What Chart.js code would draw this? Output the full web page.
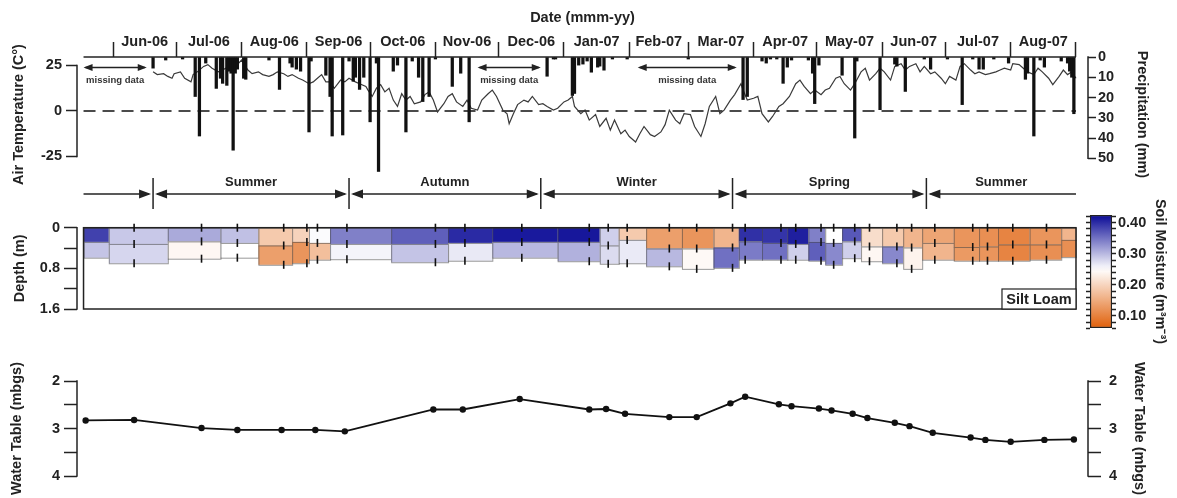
<!DOCTYPE html>
<html>
<head>
<meta charset="utf-8">
<title>Weather, soil moisture and water table</title>
<script src="https://cdn.jsdelivr.net/npm/chart.js@4.4.1/dist/chart.umd.min.js"></script>
<style>
  body { margin: 0; background: #fff; }
  #fig { position: relative; width: 1177px; height: 498px; overflow: hidden; }
  #fig canvas { position: absolute; }
</style>
</head>
<body>
<div id="fig">
  <canvas id="weather" width="1177" height="215" style="left:0;top:0"></canvas>
  <canvas id="soil" width="1177" height="120" style="left:0;top:215px"></canvas>
  <canvas id="water" width="1177" height="158" style="left:0;top:340px"></canvas>
  <canvas id="bar" width="137" height="165" style="left:1040px;top:195px"></canvas>
</div>
<script>
// time is counted in days after 1 Jun 2006
const D0 = Date.UTC(2006, 5, 1);
function day(s) {
    const p = s.split('-').map(Number);
    return (Date.UTC(p[0], p[1] - 1, p[2]) - D0) / 864e5;
}
const X_MIN = -17.1, X_MAX = 462.7; // axis brackets sit a bit outside the data frame
const FRAME_START = day('2006-05-18'), FRAME_END = day('2007-09-01');

const monthStarts = ['2006-06-01', '2006-07-01', '2006-08-01', '2006-09-01', '2006-10-01', '2006-11-01',
    '2006-12-01', '2007-01-01', '2007-02-01', '2007-03-01', '2007-04-01', '2007-05-01', '2007-06-01',
    '2007-07-01', '2007-08-01', '2007-09-01'];
const monthLabels = ['Jun-06', 'Jul-06', 'Aug-06', 'Sep-06', 'Oct-06', 'Nov-06', 'Dec-06', 'Jan-07',
    'Feb-07', 'Mar-07', 'Apr-07', 'May-07', 'Jun-07', 'Jul-07', 'Aug-07'];

// air temperature (days after 1 Jun 2006, deg C)
const tempDay = [19, 21, 24, 26, 28, 29, 32, 34, 37, 38, 40, 43, 45, 47, 50, 52, 55, 57, 59, 61,
    64, 66, 69, 71, 74, 76, 78, 81, 83, 85, 88, 90, 93, 95, 97, 99, 101, 103, 105, 108,
    110, 112, 115, 117, 120, 121, 123, 125, 127, 129, 131, 133, 135, 137, 139, 141, 143, 146, 148, 150,
    152, 154, 157, 159, 161, 163, 166, 168, 170, 173, 175, 178, 180, 182, 185, 187, 188, 190, 192, 195,
    197, 199, 202, 204, 206, 209, 211, 214, 216, 218, 219, 222, 224, 226, 229, 231, 234, 236, 238, 241,
    243, 245, 248, 250, 252, 255, 257, 260, 262, 264, 267, 269, 271, 274, 276, 279, 281, 283, 286, 288,
    290, 293, 295, 298, 299, 301, 304, 306, 308, 311, 313, 316, 318, 321, 324, 326, 328, 331, 333, 336,
    338, 340, 343, 345, 347, 350, 352, 355, 357, 359, 362, 364, 366, 369, 371, 374, 376, 378, 381, 383,
    385, 388, 390, 393, 395, 397, 400, 402, 404, 407, 409, 411, 414, 416, 419, 421, 423, 426, 427, 430,
    432, 434, 437, 439, 441, 444, 446, 449, 451, 453, 455, 457];
const tempC = [21.5, 20, 20.5, 19, 18, 20.5, 21.5, 18, 16, 20, 21.5, 24.5, 25.5, 23.5, 21.5, 22.5, 24.5, 23.5, 25.5, 28,
    22.5, 20.5, 21.5, 20, 19, 20, 21.5, 20.5, 19, 20, 18, 17, 15, 16, 18, 20, 16, 16, 12.5, 17,
    16, 18, 16, 15, 13.5, 11.5, 8, 12.5, 14.5, 10.5, 12.5, 6, 2.5, 9.5, 6, 8, 4, 5, 9, 10.5,
    6, -0.5, 4, 8, 9.5, 5, 2.5, 6, 1.5, 0.5, 6, 9.5, 11.5, 8, 0.5, -1.5, -7, -1.5, 3.5, 6,
    5, 8, 3.5, 4, 2.5, 0.5, 1.5, 5, 6, 8, 2.5, -1.5, 0.5, -5, -2, -8.5, -4, -10.5, -5, -12.5,
    -10.5, -14, -17, -12.5, -8.5, -13, -14, -11.5, -7.5, 0.5, -5, -7, -1.5, -2, -8.5, -14, -7, 2.5, 8, -1.5,
    0.5, 6, 9, 15, 11.5, 6, 7, 8, -1.5, -6, -3, 2.5, 4, 8, 15, 17, 13.5, 9.5, 11.5, 9,
    11.5, 12.5, 18, 19, 15, 11.5, 15, 21.5, 23.5, 17, 20.5, 23.5, 21.5, 17, 24.5, 26, 22.5, 24.5, 26, 21.5,
    24.5, 20.5, 21.5, 18, 15, 19, 17, 24.5, 26, 22.5, 20.5, 21.5, 20, 20.5, 21.5, 22.5, 23.5, 22.5, 26, 25.5,
    23.5, 21.5, 20, 23.5, 21.5, 18, 14.5, 19, 22.5, 20, 21.5, 18];

// daily precipitation (days after 1 Jun 2006, mm)
const rainDay = [19, 25, 33, 39, 41, 44, 49, 51, 52, 54, 55, 56, 57, 58, 59, 62, 63, 74, 79, 84,
    85, 87, 89, 93, 94, 101, 103, 104, 109, 112, 114, 115, 117, 119, 122, 125, 126, 133, 135, 139,
    142, 145, 147, 150, 153, 161, 165, 169, 206, 209, 210, 218, 219, 221, 223, 225, 227, 230, 231, 233,
    237, 244, 273, 299, 301, 308, 310, 312, 315, 318, 320, 322, 330, 332, 333, 335, 346, 352, 353, 364,
    371, 372, 376, 385, 388, 396, 403, 408, 411, 413, 418, 425, 433, 434, 437, 440, 442, 450, 453, 454,
    455, 456];
const rainMm = [5.5, 1.5, 1, 19.5, 39, 3, 15.5, 10.5, 13, 14, 7, 8, 46, 8, 6, 10.5, 11, 1.5, 16, 3,
    5, 6, 7, 37, 2, 9, 19.5, 39, 38.5, 2, 12, 10, 16, 10, 32, 3, 56.5, 7, 4, 37,
    2, 10, 22, 19.5, 1, 14.5, 8, 32, 9.5, 1, 1, 19, 18, 4, 3.5, 2, 7.5, 5, 4.5, 6.5,
    1, 1, 1, 21, 19.5, 2, 3, 1, 1, 13, 5, 1.5, 1.5, 8, 23, 4, 9, 40, 2, 26,
    3.5, 4.5, 17, 1, 6, 1, 23.5, 1, 6, 6, 1, 3, 11, 8, 39, 1.5, 5, 2, 3, 7,
    10, 28];

// periods without precipitation record
const gapStart = ['2006-05-18', '2006-11-21', '2007-02-05'];
const gapEnd = ['2006-06-17', '2006-12-21', '2007-03-24'];

const seasonStarts = ['2006-06-20', '2006-09-21', '2006-12-21', '2007-03-22', '2007-06-22'];
const seasonNames = ['Summer', 'Autumn', 'Winter', 'Spring', 'Summer'];

// soil moisture blocks: time edges, layer bases (m) and volumetric water content (m3/m3)
const soilEdges = ['2006-05-18', '2006-05-30', '2006-06-27', '2006-07-22', '2006-08-09', '2006-08-25',
    '2006-09-02', '2006-09-12', '2006-10-11', '2006-11-07', '2006-11-28', '2006-12-29', '2007-01-18',
    '2007-01-27', '2007-02-09', '2007-02-26', '2007-03-13', '2007-03-25', '2007-04-05', '2007-04-17',
    '2007-04-27', '2007-05-05', '2007-05-13', '2007-05-22', '2007-06-01', '2007-06-11', '2007-06-20',
    '2007-07-05', '2007-07-17', '2007-07-26', '2007-08-10', '2007-08-25', '2007-09-01'];
const upperBase = [0.28, 0.32, 0.27, 0.30, 0.35, 0.28, 0.30, 0.32, 0.32, 0.30, 0.28, 0.28, 0.35, 0.24, 0.41, 0.41,
    0.39, 0.27, 0.30, 0.32, 0.28, 0.30, 0.27, 0.37, 0.37, 0.39, 0.30, 0.38, 0.37, 0.33, 0.33, 0.24];
const lowerBase = [0.59, 0.70, 0.61, 0.59, 0.73, 0.70, 0.63, 0.62, 0.68, 0.65, 0.59, 0.66, 0.71, 0.70, 0.76, 0.81,
    0.79, 0.63, 0.63, 0.63, 0.65, 0.73, 0.60, 0.66, 0.70, 0.81, 0.63, 0.65, 0.65, 0.65, 0.63, 0.58];
const upperVWC = [0.386, 0.289, 0.311, 0.295, 0.187, 0.198, 0.253, 0.341, 0.364, 0.402, 0.414, 0.416, 0.284, 0.187, 0.136, 0.124,
    0.162, 0.398, 0.395, 0.41, 0.341, 0.25, 0.369, 0.21, 0.187, 0.162, 0.143, 0.124, 0.117, 0.104, 0.124, 0.162];
const lowerVWC = [0.292, 0.279, 0.241, 0.25, 0.136, 0.124, 0.174, 0.258, 0.292, 0.266, 0.301, 0.306, 0.276, 0.265, 0.301, 0.243,
    0.352, 0.344, 0.352, 0.284, 0.364, 0.334, 0.284, 0.241, 0.335, 0.236, 0.162, 0.13, 0.124, 0.104, 0.117, 0.117];
const probeDates = ['2006-06-11', '2006-07-13', '2006-07-30', '2006-08-21', '2006-09-01', '2006-09-06', '2006-09-20',
    '2006-11-01', '2006-11-15', '2006-12-12', '2007-01-13', '2007-01-22', '2007-01-31', '2007-02-20', '2007-03-05',
    '2007-03-22', '2007-03-28', '2007-04-14', '2007-04-21', '2007-05-03', '2007-05-09', '2007-05-19', '2007-05-26',
    '2007-06-08', '2007-06-15', '2007-06-26', '2007-07-14', '2007-07-21', '2007-08-02', '2007-08-18'];

// water table depth (m below ground surface)
const wtDates = ['2006-05-19', '2006-06-11', '2006-07-13', '2006-07-30', '2006-08-20', '2006-09-05', '2006-09-19',
    '2006-10-31', '2006-11-14', '2006-12-11', '2007-01-13', '2007-01-21', '2007-01-30', '2007-02-20', '2007-03-05',
    '2007-03-21', '2007-03-28', '2007-04-13', '2007-04-19', '2007-05-02', '2007-05-08', '2007-05-18', '2007-05-25',
    '2007-06-07', '2007-06-14', '2007-06-25', '2007-07-13', '2007-07-20', '2007-08-01', '2007-08-17', '2007-08-31'];
const wtDepth = [2.83, 2.82, 2.99, 3.03, 3.03, 3.03, 3.06, 2.60, 2.60, 2.38, 2.60, 2.59, 2.69, 2.76, 2.76,
    2.47, 2.33, 2.49, 2.53, 2.58, 2.62, 2.69, 2.78, 2.88, 2.95, 3.09, 3.19, 3.24, 3.28, 3.24, 3.23];

// colour bar
const CB_MIN = 0.061, CB_MAX = 0.425;
const cbTicks = [0.06, 0.08, 0.10, 0.12, 0.14, 0.16, 0.18, 0.20, 0.22, 0.24, 0.26, 0.28, 0.30, 0.32, 0.34,
    0.36, 0.38, 0.40, 0.42];
const cbLabels = [0.10, 0.20, 0.30, 0.40];

Chart.defaults.font.family = '"Liberation Sans", Arial, sans-serif';
Chart.defaults.font.size = 14.5;
Chart.defaults.font.weight = 'bold';
Chart.defaults.color = '#222';

// orange (dry) -> white -> blue (wet)
function cmap(v) {
    const mid = 0.25;
    let t, c;
    if (v >= mid) { t = Math.min(1, (v - mid) / (CB_MAX - mid)); c = [10, 10, 150]; }
    else { t = Math.min(1, (mid - v) / (mid - CB_MIN)); c = [224, 96, 10]; }
    const rgb = c.map(k => Math.round(255 + (k - 255) * t));
    return 'rgb(' + rgb.join(',') + ')';
}

function vAxis(position, o) {
    return {
        position: position,
        reverse: !!o.reverse,
        min: o.min,
        max: o.max,
        afterFit: s => { s.width = o.width; },
        afterBuildTicks: s => { s.ticks = o.ticks.map(v => ({ value: v })); },
        border: { display: false },
        grid: { drawOnChartArea: false, offset: false, tickLength: o.tick, tickWidth: 1.5, tickColor: '#222' },
        ticks: { padding: o.pad, autoSkip: false, callback: o.label || (v => String(v)) },
        title: { display: !!o.title, text: o.title || '', padding: { top: o.titlePad || 0, bottom: 0 } }
    };
}

// y axis line only between first and last tick
const brackets = {
    id: 'brackets',
    afterDraw(chart) {
        const ctx = chart.ctx;
        ctx.save();
        ctx.strokeStyle = '#222';
        ctx.lineWidth = 1.5;
        Object.values(chart.scales).forEach(s => {
            if (s.axis !== 'y' || !s.options.display || s.ticks.length < 2) return;
            const ys = s.ticks.map(t => s.getPixelForValue(t.value));
            const xx = s.position === 'left' ? s.right : s.left;
            ctx.beginPath();
            ctx.moveTo(xx, Math.min(...ys) - 0.75);
            ctx.lineTo(xx, Math.max(...ys) + 0.75);
            ctx.stroke();
        });
        ctx.restore();
    }
};

function head(ctx, tip, y, dir, len, half) {
    ctx.beginPath();
    ctx.moveTo(tip, y);
    ctx.lineTo(tip - dir * len, y - half);
    ctx.lineTo(tip - dir * len, y + half);
    ctx.closePath();
    ctx.fill();
}

function arrow(ctx, a, b, y, len, half, startHead, endHead) {
    ctx.beginPath();
    ctx.moveTo(a + (startHead ? 2 : 0), y);
    ctx.lineTo(b - (endHead ? 2 : 0), y);
    ctx.stroke();
    if (startHead) head(ctx, a, y, -1, len, half);
    if (endHead) head(ctx, b, y, 1, len, half);
}

const weatherMarks = {
    id: 'weatherMarks',
    afterDraw(chart) {
        const { ctx, chartArea: ca } = chart;
        const x = chart.scales.x;
        const px = s => x.getPixelForValue(typeof s === 'string' ? day(s) : s);
        ctx.save();
        ctx.strokeStyle = '#222';
        ctx.fillStyle = '#222';
        ctx.lineWidth = 1.5;
        // date axis line
        ctx.beginPath();
        ctx.moveTo(px(FRAME_START), ca.top);
        ctx.lineTo(px(FRAME_END), ca.top);
        ctx.stroke();

        // missing precipitation record
        ctx.font = 'bold 9.5px "Liberation Sans", Arial, sans-serif';
        ctx.textAlign = 'center';
        ctx.textBaseline = 'middle';
        ctx.lineWidth = 1.4;
        gapStart.forEach((s, i) => {
            const a = px(s), b = px(gapEnd[i]);
            ctx.fillStyle = '#222';
            arrow(ctx, a, b, ca.top + 10.5, 9, 3.5, true, true);
            ctx.fillStyle = '#333';
            ctx.fillText('missing data', (a + b) / 2, ca.top + 23);
        });

        // seasons row
        const edges = seasonStarts.map(px);
        const ends = [px(FRAME_START)].concat(edges, [px(FRAME_END)]);
        const yA = ca.bottom + 22;
        ctx.fillStyle = '#222';
        ctx.lineWidth = 1.5;
        edges.forEach(e => {
            ctx.beginPath();
            ctx.moveTo(e, ca.bottom + 6);
            ctx.lineTo(e, ca.bottom + 37);
            ctx.stroke();
        });
        for (let k = 0; k < ends.length - 1; k++) {
            const hasStart = k > 0, hasEnd = k < ends.length - 2;
            arrow(ctx, ends[k] + (hasStart ? 2 : 0), ends[k + 1] - (hasEnd ? 2 : 0), yA, 12, 4.5, hasStart, hasEnd);
        }
        ctx.font = 'bold 13px "Liberation Sans", Arial, sans-serif';
        seasonNames.forEach((n, i) => {
            ctx.fillText(n, (ends[i + 1] + ends[i + 2]) / 2, ca.bottom + 10);
        });
        ctx.restore();
    }
};

const monthEdges = monthStarts.map(day);
const monthMids = monthLabels.map((_, i) => (monthEdges[i] + monthEdges[i + 1]) / 2);
const monthTickValues = monthEdges.concat(monthMids).sort((a, b) => a - b);
const monthLabelAt = new Map(monthMids.map((m, i) => [m, monthLabels[i]]));
const edgeSet = new Set(monthEdges);

new Chart(document.getElementById('weather'), {
    type: 'bar',
    data: {
        datasets: [{
            type: 'bar',
            label: 'Precipitation',
            data: rainDay.map((d, i) => ({ x: d, y: rainMm[i] })),
            yAxisID: 'rain',
            backgroundColor: '#111',
            barThickness: 2.6,
            grouped: false,
            order: 0
        }, {
            type: 'line',
            label: 'Air temperature',
            data: tempDay.map((d, i) => ({ x: d, y: tempC[i] })),
            yAxisID: 'temp',
            borderColor: '#3a3a3a',
            borderWidth: 1.2,
            pointRadius: 0,
            order: 1
        }, {
            type: 'line',
            label: 'zero',
            data: [{ x: FRAME_START, y: 0 }, { x: FRAME_END, y: 0 }],
            yAxisID: 'temp',
            borderColor: '#111',
            borderWidth: 1.6,
            borderDash: [12, 7],
            pointRadius: 0,
            order: 2
        }]
    },
    options: {
        responsive: false,
        animation: false,
        layout: { padding: { left: 0, right: 0, top: 0, bottom: 43 } },
        plugins: { legend: { display: false }, tooltip: { enabled: false } },
        scales: {
            x: {
                type: 'linear',
                position: 'top',
                min: X_MIN,
                max: X_MAX,
                offset: false,
                afterFit: s => { s.height = 57; },
                afterBuildTicks: s => { s.ticks = monthTickValues.map(v => ({ value: v })); },
                border: { display: false },
                grid: {
                    drawOnChartArea: false,
                    offset: false,
                    tickLength: 15,
                    tickWidth: 1.5,
                    tickColor: c => (c.tick && edgeSet.has(c.tick.value)) ? '#222' : 'rgba(0,0,0,0)'
                },
                ticks: { autoSkip: false, maxRotation: 0, padding: -9, callback: v => monthLabelAt.get(v) || '' },
                title: { display: true, text: 'Date (mmm-yy)', padding: { top: 9, bottom: 0 } }
            },
            temp: vAxis('left', { min: -33.52, max: 29.67, width: 77, ticks: [-25, 0, 25], tick: 11, pad: 4,
                title: 'Air Temperature (C°)', titlePad: 10 }),
            rain: vAxis('right', { min: 0, max: 56.76, reverse: true, width: 89, ticks: [0, 10, 20, 30, 40, 50],
                tick: 8, pad: 2, title: 'Precipitation (mm)', titlePad: 26 })
        }
    },
    plugins: [brackets, weatherMarks]
});

// little vertical marks at every probe reading, on each layer boundary
const probeTicks = [];
probeDates.forEach(s => {
    const d = day(s);
    let i = 0;
    while (i < upperBase.length - 1 && day(soilEdges[i + 1]) <= d) i++;
    probeTicks.push({ x: d, y: 0 }, { x: d, y: upperBase[i] }, { x: d, y: lowerBase[i] });
});

const soilCells = {
    id: 'soilCells',
    beforeDatasetsDraw(chart) {
        const { ctx, chartArea: ca } = chart;
        const x = chart.scales.x, y = chart.scales.y;
        ctx.save();
        ctx.lineWidth = 1;
        ctx.strokeStyle = 'rgba(70,70,70,0.55)';
        for (let i = 0; i < upperVWC.length; i++) {
            const x0 = x.getPixelForValue(day(soilEdges[i]));
            const x1 = x.getPixelForValue(day(soilEdges[i + 1]));
            const layers = [[0, upperBase[i], upperVWC[i]], [upperBase[i], lowerBase[i], lowerVWC[i]]];
            layers.forEach(([d0, d1, v]) => {
                const y0 = y.getPixelForValue(d0), y1 = y.getPixelForValue(d1);
                ctx.fillStyle = cmap(v);
                ctx.fillRect(x0, y0, x1 - x0, y1 - y0);
                ctx.strokeRect(x0 + 0.5, y0 + 0.5, x1 - x0, y1 - y0);
            });
        }
        // frame
        const fx0 = x.getPixelForValue(FRAME_START), fx1 = x.getPixelForValue(FRAME_END);
        ctx.strokeStyle = '#222';
        ctx.lineWidth = 1.5;
        ctx.strokeRect(fx0, ca.top, fx1 - fx0, ca.bottom - ca.top);
        // soil type label
        ctx.fillStyle = '#fff';
        ctx.lineWidth = 1.2;
        ctx.fillRect(fx1 - 74, ca.bottom - 20, 74, 20);
        ctx.strokeRect(fx1 - 74, ca.bottom - 20, 74, 20);
        ctx.fillStyle = '#222';
        ctx.font = 'bold 14.5px "Liberation Sans", Arial, sans-serif';
        ctx.textAlign = 'center';
        ctx.textBaseline = 'middle';
        ctx.fillText('Silt Loam', fx1 - 37, ca.bottom - 9.5);
        ctx.restore();
    }
};

new Chart(document.getElementById('soil'), {
    type: 'scatter',
    data: {
        datasets: [{
            label: 'probe readings',
            data: probeTicks,
            pointStyle: 'line',
            pointRotation: 90,
            pointRadius: 4,
            pointBorderColor: '#111',
            pointBorderWidth: 1.6,
            clip: false
        }]
    },
    options: {
        responsive: false,
        animation: false,
        layout: { padding: { left: 0, right: 89, top: 10, bottom: 26 } },
        plugins: { legend: { display: false }, tooltip: { enabled: false } },
        scales: {
            x: { type: 'linear', display: false, min: X_MIN, max: X_MAX },
            y: vAxis('left', { min: 0, max: 1.6, reverse: true, width: 77, ticks: [0, 0.4, 0.8, 1.2, 1.6], tick: 13, pad: 4,
                label: v => (v === 0.4 || v === 1.2) ? '' : String(v), title: 'Depth (m)', titlePad: 11 })
        }
    },
    plugins: [brackets, soilCells]
});

new Chart(document.getElementById('water'), {
    type: 'line',
    data: {
        datasets: [{
            label: 'Water table',
            data: wtDates.map((s, i) => ({ x: day(s), y: wtDepth[i] })),
            yAxisID: 'y',
            borderColor: '#111',
            borderWidth: 1.8,
            pointRadius: 3.2,
            pointBackgroundColor: '#111',
            pointBorderColor: '#111',
            pointBorderWidth: 0,
            tension: 0,
            clip: false
        }]
    },
    options: {
        responsive: false,
        animation: false,
        layout: { padding: { left: 0, right: 0, top: 41, bottom: 22 } },
        plugins: { legend: { display: false }, tooltip: { enabled: false } },
        scales: {
            x: { type: 'linear', display: false, min: X_MIN, max: X_MAX },
            y: vAxis('left', { min: 2, max: 4, reverse: true, width: 77, ticks: [2, 2.5, 3, 3.5, 4], tick: 13, pad: 4,
                label: v => Number.isInteger(v) ? String(v) : '', title: 'Water Table (mbgs)', titlePad: 8 }),
            y2: vAxis('right', { min: 2, max: 4, reverse: true, width: 89, ticks: [2, 2.5, 3, 3.5, 4], tick: 13, pad: 8,
                label: v => Number.isInteger(v) ? String(v) : '', title: 'Water Table (mbgs)', titlePad: 29 })
        }
    },
    plugins: [brackets]
});

function barGradient(chart) {
    const s = chart.scales.y;
    if (!s) return '#fff';
    const y0 = s.getPixelForValue(CB_MIN), y1 = s.getPixelForValue(CB_MAX);
    if (!isFinite(y0) || !isFinite(y1) || y0 === y1) return '#fff';
    const g = chart.ctx.createLinearGradient(0, y0, 0, y1);
    for (let i = 0; i <= 20; i++) {
        g.addColorStop(i / 20, cmap(CB_MIN + (CB_MAX - CB_MIN) * i / 20));
    }
    return g;
}

new Chart(document.getElementById('bar'), {
    type: 'bar',
    data: {
        labels: ['VWC'],
        datasets: [{
            label: 'Soil moisture',
            data: [[CB_MIN, CB_MAX]],
            yAxisID: 'y',
            backgroundColor: c => barGradient(c.chart),
            borderColor: '#222',
            borderWidth: 1.5,
            borderSkipped: false,
            barPercentage: 1,
            categoryPercentage: 1
        }]
    },
    options: {
        responsive: false,
        animation: false,
        layout: { padding: { left: 0, right: 0, top: 20, bottom: 32 } },
        plugins: { legend: { display: false }, tooltip: { enabled: false } },
        scales: {
            x: { display: false },
            yl: vAxis('left', { min: CB_MIN, max: CB_MAX, width: 50, ticks: cbTicks, tick: 4, pad: 0, label: () => '' }),
            y: vAxis('right', { min: CB_MIN, max: CB_MAX, width: 65, ticks: cbTicks, tick: 4, pad: 2,
                label: v => cbLabels.some(l => Math.abs(l - v) < 1e-6) ? v.toFixed(2) : '',
                title: 'Soil Moisture (m³m⁻³)', titlePad: 8 })
        }
    }
});
</script>
</body>
</html>
